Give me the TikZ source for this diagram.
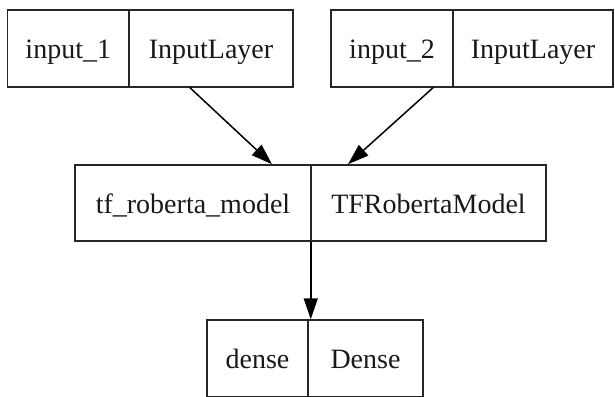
\documentclass[tikz,border=0pt]{standalone}
\usepackage{fontspec}
\setmainfont{Liberation Serif}
\usetikzlibrary{arrows.meta,calc}
\begin{document}
\begin{tikzpicture}[x=1pt,y=-1pt,
  cell/.style={draw=black!85, line width=1.5pt, rectangle, inner sep=0pt,
    font=\fontsize{28}{30}\selectfont, text height=22pt, text depth=2pt, text=black!90},
  conn/.style={draw=black, line width=1.5pt, -{Triangle[length=21pt,width=14pt]}}]
\useasboundingbox (0,0) rectangle (615,396);
\clip (0,0) rectangle (615,396);
\node[cell, minimum width=121.5pt, minimum height=77pt] (in1a) at (68.25,48.5) {input\_1};
\node[cell, minimum width=164pt, minimum height=77pt] (in1b) at (211,48.5) {InputLayer};
\node[cell, minimum width=122pt, minimum height=77pt] (in2a) at (392,48.5) {input\_2};
\node[cell, minimum width=160pt, minimum height=77pt] (in2b) at (533,48.5) {InputLayer};
\node[cell, minimum width=236pt, minimum height=76pt] (tfa) at (193,203) {tf\_roberta\_model};
\node[cell, minimum width=235pt, minimum height=76pt] (tfb) at (428.5,203) {TFRobertaModel};
\node[cell, minimum width=101pt, minimum height=77pt] (da) at (257.5,358.5) {dense};
\node[cell, minimum width=115pt, minimum height=77pt] (db) at (365.5,358.5) {Dense};
\draw[conn] ($(in1b.south)+(-21,0)$) -- ($(tfa.north)+(79,0)$);
\draw[conn] ($(in2a.south)+(41,0)$) -- ($(tfb.north)+(-80.5,0)$);
\draw[conn] ($(tfa.south east)+(-1,0)$) -- ($(da.north east)+(2,0)$);
\end{tikzpicture}
\end{document}
